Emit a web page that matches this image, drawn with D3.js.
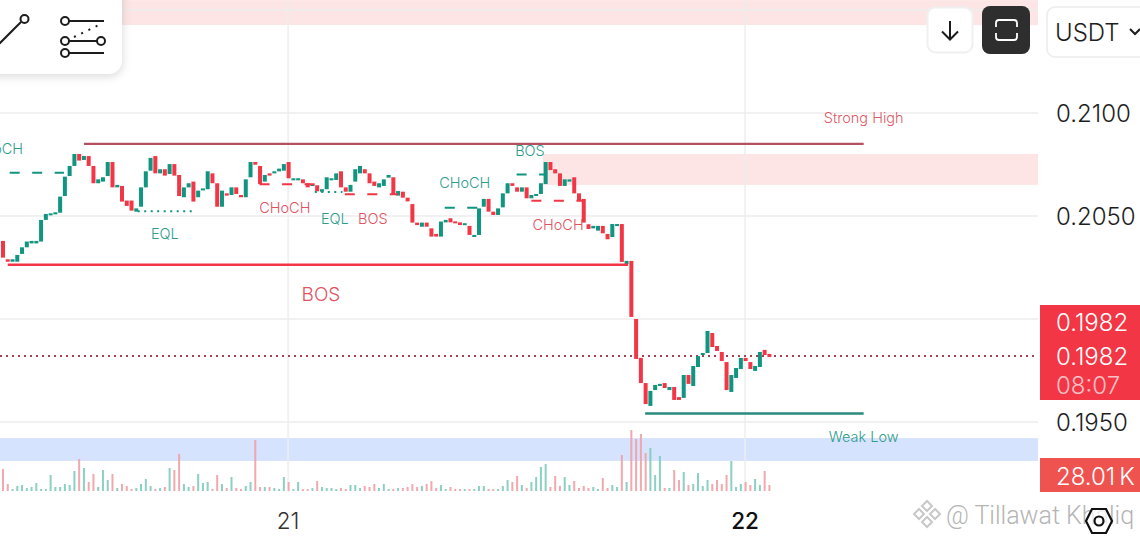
<!DOCTYPE html>
<html lang="en">
<head>
<meta charset="UTF-8">
<title>Price chart</title>
<style>
    html, body { margin: 0; padding: 0; background: #fff; overflow: hidden; }
    svg { display: block; font-family: Inter, "Noto Sans", sans-serif; }
    .anno { font-size: 14.5px; font-weight: 300; text-anchor: middle; dominant-baseline: central; }
    .side { font-size: 24px; font-weight: 300; dominant-baseline: central; }
</style>
</head>
<body>
<svg id="chart" width="1140" height="540"></svg>

<script src="https://d3js.org/d3.v7.min.js"></script>
<script>
    // 15 minute candles
    var opens = [
        .20379,.20290,.20278,.20278,.20316,.20348,.20367,.20367,.20376,.20481,.20505,.20508,.20516,.20597,.20694,.20743,.20801,.20772,.20791,.20743,
        .20659,.20667,.20694,.20762,.20639,.20646,.20575,.20575,.20521,.20545,.20639,.20720,.20791,.20707,.20727,.20704,.20752,.20699,.20591,.20639,
        .20667,.20591,.20626,.20630,.20707,.20659,.20545,.20610,.20602,.20639,.20602,.20591,.20688,.20762,.20743,.20667,.20707,.20707,.20717,.20720,
        .20762,.20676,.20676,.20678,.20659,.20649,.20649,.20618,.20630,.20675,.20675,.20717,.20639,.20618,.20667,.20707,.20727,.20707,.20667,.20639,
        .20646,.20686,.20688,.20599,.20618,.20589,.20558,.20468,.20448,.20468,.20440,.20413,.20400,.20469,.20489,.20474,.20469,.20456,.20452,.20400,
        .20408,.20545,.20583,.20521,.20505,.20542,.20610,.20659,.20639,.20618,.20639,.20586,.20599,.20607,.20655,.20762,.20727,.20707,.20646,.20667,
        .20688,.20610,.20583,.20460,.20440,.20429,.20452,.20413,.20398,.20451,.20461,.20267,.20282,.20000,.19811,.19689,.19578,.19655,.19675,.19689,
        .19655,.19670,.19621,.19617,.19728,.19675,.19767,.19825,.19835,.19932,.19869,.19840,.19791,.19646,.19714,.19757,.19811,.19791,.19748,.19767,
        .19850,.19830
    ];
    var closes = [
        .20298,.20278,.20290,.20311,.20348,.20376,.20379,.20379,.20481,.20510,.20513,.20518,.20594,.20691,.20743,.20801,.20769,.20791,.20743,.20659,
        .20678,.20688,.20762,.20639,.20651,.20570,.20549,.20526,.20537,.20639,.20717,.20782,.20707,.20727,.20696,.20752,.20696,.20597,.20639,.20659,
        .20570,.20623,.20634,.20717,.20659,.20545,.20623,.20599,.20639,.20607,.20591,.20678,.20762,.20749,.20655,.20699,.20696,.20717,.20730,.20752,
        .20683,.20683,.20683,.20659,.20639,.20655,.20620,.20630,.20688,.20683,.20707,.20639,.20618,.20651,.20727,.20743,.20707,.20659,.20646,.20659,
        .20678,.20699,.20602,.20621,.20589,.20571,.20468,.20456,.20468,.20448,.20400,.20400,.20473,.20481,.20469,.20468,.20456,.20465,.20408,.20408,
        .20537,.20583,.20521,.20505,.20537,.20610,.20659,.20646,.20618,.20639,.20586,.20602,.20607,.20659,.20762,.20723,.20707,.20646,.20678,.20678,
        .20610,.20575,.20468,.20437,.20452,.20452,.20416,.20387,.20461,.20461,.20277,.20282,.20010,.19806,.19689,.19587,.19651,.19680,.19685,.19665,
        .19670,.19607,.19607,.19728,.19685,.19772,.19820,.19835,.19942,.19864,.19845,.19796,.19655,.19728,.19762,.19811,.19796,.19757,.19772,.19840,
        .19825,.19816
    ];
    // volume, in thousands
    var volumes = [
        44,14,4,10,12,6,8,16,4,4,32,8,8,14,12,40,64,46,18,34,8,42,22,34,6,14,10,4,6,14,24,10,4,6,8,46,42,74,14,8,10,34,
        16,18,4,32,14,6,28,6,4,10,18,102,8,8,8,6,4,28,18,4,18,4,4,6,20,8,6,6,4,6,4,12,12,6,10,8,14,6,14,4,4,6,
        6,8,14,8,10,14,20,6,12,4,8,4,4,4,4,4,10,10,4,4,4,10,22,18,30,12,6,18,28,48,54,8,30,10,28,12,20,6,10,6,8,4,26,6,12,8,
        72,18,122,104,114,76,86,32,70,6,6,42,22,38,12,14,36,10,22,14,22,14,32,60,8,14,18,12,24,12,40,12
    ];

    var priceTicks = [0.21, 0.205, 0.195];
    var gridPrices = [0.215, 0.21, 0.205, 0.2, 0.195];
    var dayIndex = [60, 156];
    var dayLabels = ["21", "22"];
    var lastPrice = 0.1982;
    var lastPriceLabel = "0.1982";
    var countdownLabel = "08:07";
    var volumeLabel = "28.01";

    // [start candle, end candle, top price, bottom price]
    var zones = [
        [20, 210, 0.21548, 0.21427],
        [113.4, 210, 0.20801, 0.20651]
    ];
    var volumeBand = [0.19422, 0.19311];

    // [start candle, end candle, price, kind]
    var levels = [
        [17, 180.8, 0.2085, "high"],
        [1, 131.3, 0.20263, "bos"],
        [134.9, 180.8, 0.19541, "low"],
        [1.4, 12.8, 0.2071, "greenDash"],
        [28.3, 39.8, 0.20523, "greenDot"],
        [53.9, 65.5, 0.20654, "redDash"],
        [65.5, 71.3, 0.20617, "greenDot"],
        [71.8, 82.9, 0.20605, "redDash"],
        [92.8, 101.6, 0.2054, "greenDash"],
        [107.9, 114.2, 0.20702, "greenDash"],
        [111, 121.8, 0.20574, "redDash"]
    ];

    // [text, candle, price, kind]
    var notes = [
        ["CHoCH", -1.16, 0.2083, "green"],
        ["EQL", 34, 0.20413, "green"],
        ["CHoCH", 59.2, 0.20539, "red"],
        ["EQL", 69.7, 0.2049, "green"],
        ["BOS", 77.7, 0.2049, "red"],
        ["CHoCH", 97, 0.20665, "green"],
        ["BOS", 110.7, 0.2082, "green"],
        ["CHoCH", 116.6, 0.20461, "red"],
        ["Strong High", 180.8, 0.20976, "high"],
        ["Weak Low", 180.8, 0.19432, "green"]
    ];

    var up = "#0f9580", down = "#f23645";
    var chartRight = 1038;

    var x = d3.scaleLinear().domain([0, 161]).range([3, 769.4]);
    var y = d3.scaleLinear().domain([0.21, 0.195]).range([113, 422]);
    var yVol = d3.scaleLinear().domain([0, 122]).range([491, 430]);

    var svg = d3.select("#chart");

    // zones
    svg.selectAll(".zone").data(zones).enter().append("rect")
        .attr("x", function (d) { return x(d[0]); })
        .attr("y", function (d) { return y(d[2]); })
        .attr("width", function (d) { return chartRight - x(d[0]); })
        .attr("height", function (d) { return y(d[3]) - y(d[2]); })
        .attr("fill", "#fde5e5");

    svg.append("rect")
        .attr("x", 0).attr("width", chartRight)
        .attr("y", y(volumeBand[0]))
        .attr("height", y(volumeBand[1]) - y(volumeBand[0]))
        .attr("fill", "#d6e3fe");

    // grid
    svg.selectAll(".gridY").data(gridPrices).enter().append("line")
        .attr("x1", 0).attr("x2", chartRight)
        .attr("y1", function (d) { return y(d); })
        .attr("y2", function (d) { return y(d); })
        .attr("stroke", "#eeeeee").attr("stroke-opacity", 0.8).attr("stroke-width", 1.8);

    svg.selectAll(".gridX").data(dayIndex).enter().append("line")
        .attr("x1", function (d) { return x(d) - 0.5; })
        .attr("x2", function (d) { return x(d) - 0.5; })
        .attr("y1", 0).attr("y2", 492)
        .attr("stroke", "#eeeeee").attr("stroke-opacity", 0.8).attr("stroke-width", 1.8);

    function isUp(i) { return closes[i] >= opens[i]; }

    // volume
    svg.selectAll(".vol").data(volumes).enter().append("rect")
        .attr("x", function (d, i) { return x(i) - 1; })
        .attr("width", 2)
        .attr("y", function (d) { return yVol(d); })
        .attr("height", function (d) { return yVol(0) - yVol(d); })
        .attr("fill", function (d, i) { return isUp(i) ? "#7fcabd" : "#f0a0a4"; })
        .attr("fill-opacity", 0.9);

    // price line
    svg.append("line")
        .attr("x1", 0).attr("x2", 1034)
        .attr("y1", y(lastPrice)).attr("y2", y(lastPrice))
        .attr("stroke", "#a8404f").attr("stroke-width", 2)
        .attr("stroke-dasharray", "2 4");

    // candles
    svg.selectAll(".candle").data(opens).enter().append("rect")
        .attr("x", function (d, i) { return x(i) - 2; })
        .attr("width", 4)
        .attr("y", function (d, i) { return y(Math.max(opens[i], closes[i])); })
        .attr("height", function (d, i) { return Math.max(2, Math.abs(y(opens[i]) - y(closes[i]))); })
        .attr("fill", function (d, i) { return isUp(i) ? up : down; });

    // structure levels
    var levelStyle = {
        high: {stroke: "#b4505f", dash: null, width: 2.4},
        bos: {stroke: "#f23645", dash: null, width: 2.4},
        low: {stroke: "#2a8a7d", dash: null, width: 2.4},
        greenDash: {stroke: up, dash: "10 12.5", width: 2},
        redDash: {stroke: down, dash: "10 12.5", width: 2},
        greenDot: {stroke: up, dash: "2 4.5", width: 2}
    };
    svg.selectAll(".level").data(levels).enter().append("line")
        .attr("x1", function (d) { return x(d[0]); })
        .attr("x2", function (d) { return x(d[1]); })
        .attr("y1", function (d) { return y(d[2]); })
        .attr("y2", function (d) { return y(d[2]); })
        .attr("stroke", function (d) { return levelStyle[d[3]].stroke; })
        .attr("stroke-width", function (d) { return levelStyle[d[3]].width; })
        .attr("stroke-dasharray", function (d) { return levelStyle[d[3]].dash; });

    // labels
    var noteColor = {green: "#2f9c8c", red: "#e0525f", high: "#dc5a68"};
    svg.selectAll(".anno").data(notes).enter().append("text")
        .attr("class", "anno")
        .attr("x", function (d) { return x(d[1]); })
        .attr("y", function (d) { return y(d[2]); })
        .attr("fill", function (d) { return noteColor[d[3]]; })
        .text(function (d) { return d[0]; });

    svg.append("text").attr("class", "anno")
        .attr("x", x(66.8)).attr("y", y(0.2) - 25)
        .attr("fill", "#e0525f").style("font-size", "19px")
        .text("BOS");

    // right price axis
    var yAxis = svg.append("g")
        .attr("transform", "translate(1056,1)")
        .call(d3.axisRight(y).tickValues(priceTicks).tickSize(0).tickPadding(0)
            .tickFormat(function (d) { return d.toFixed(4); }));
    yAxis.select(".domain").remove();
    yAxis.selectAll("text").attr("fill", "#1e1e1e")
        .style("font-family", "Inter, sans-serif").style("font-size", "24px").style("font-weight", 300);

    // bottom time axis
    var xAxis = svg.append("g")
        .attr("transform", "translate(-1,507)")
        .call(d3.axisBottom(x).tickValues(dayIndex).tickSize(0).tickPadding(6)
            .tickFormat(function (d, i) { return dayLabels[i]; }));
    xAxis.select(".domain").remove();
    xAxis.selectAll("text").attr("fill", "#333")
        .style("font-family", "Inter, sans-serif").style("font-size", "22.5px").style("font-weight", 300);
    xAxis.selectAll("text").filter(function (d) { return d === 156; })
        .attr("fill", "#111").style("font-weight", 500);

    // price and volume tags
    svg.append("rect").attr("x", 1040).attr("y", 305).attr("width", 100).attr("height", 95).attr("fill", "#f23645");
    svg.append("rect").attr("x", 1040).attr("y", 458).attr("width", 100).attr("height", 34).attr("fill", "#ef5350");
    svg.append("text").attr("class", "side").attr("x", 1056).attr("y", 322).attr("fill", "#fff").text(lastPriceLabel);
    svg.append("text").attr("class", "side").attr("x", 1056).attr("y", y(lastPrice)).attr("fill", "#fff").text(lastPriceLabel);
    svg.append("text").attr("class", "side").attr("x", 1056).attr("y", 385).attr("fill", "#fff").attr("fill-opacity", 0.7).text(countdownLabel);
    var volText = svg.append("text").attr("class", "side").attr("x", 1056).attr("y", 476).attr("fill", "#fff").text(volumeLabel);
    volText.append("tspan").attr("dx", 4).text("K");

    // tool panel, top left
    var defs = svg.append("defs");
    var shadow = defs.append("filter").attr("id", "soft").attr("x", "-20%").attr("y", "-20%").attr("width", "140%").attr("height", "150%");
    shadow.append("feDropShadow").attr("dx", 1).attr("dy", 3).attr("stdDeviation", 4).attr("flood-color", "#000").attr("flood-opacity", 0.13);
    svg.append("rect").attr("x", -20).attr("y", -20).attr("width", 142).attr("height", 94).attr("rx", 14)
        .attr("fill", "#fff").attr("filter", "url(#soft)");

    var tools = svg.append("g").attr("fill", "none").attr("stroke", "#1c1c1c").attr("stroke-width", 2);
    tools.append("path").attr("d", "M-2,45L21,22");
    tools.append("circle").attr("cx", 24.5).attr("cy", 19).attr("r", 4);
    tools.append("path").attr("d", "M69,21H104M69,41H97M69,53H104");
    tools.append("circle").attr("cx", 65).attr("cy", 21).attr("r", 4);
    tools.append("circle").attr("cx", 65).attr("cy", 41).attr("r", 4);
    tools.append("circle").attr("cx", 65).attr("cy", 53).attr("r", 4);
    tools.append("circle").attr("cx", 101).attr("cy", 41).attr("r", 4);
    tools.append("path").attr("d", "M74,37L101,24").attr("stroke-dasharray", "2 6");

    // buttons, top right
    svg.append("rect").attr("x", 927.5).attr("y", 7.5).attr("width", 45).attr("height", 45).attr("rx", 8)
        .attr("fill", "#fff").attr("stroke", "#f0f0f0").attr("stroke-width", 2);
    svg.append("path").attr("d", "M950,21V39M942,31.5L950,39.5L958,31.5")
        .attr("fill", "none").attr("stroke", "#1c1c1c").attr("stroke-width", 2);
    svg.append("rect").attr("x", 982).attr("y", 6).attr("width", 48).attr("height", 48).attr("rx", 8).attr("fill", "#2e2e2e");
    svg.append("path")
        .attr("d", "M996,27V23Q996,20 999,20H1014Q1017,20 1017,23V27M996,33V37Q996,40 999,40H1014Q1017,40 1017,37V33")
        .attr("fill", "none").attr("stroke", "#fff").attr("stroke-width", 1.8);
    svg.append("rect").attr("x", 1047).attr("y", 7).attr("width", 120).attr("height", 50).attr("rx", 8)
        .attr("fill", "#fff").attr("stroke", "#f0f0f0").attr("stroke-width", 2);
    svg.append("text").attr("class", "side").attr("x", 1055).attr("y", 32).attr("fill", "#1e1e1e").text("USDT");
    svg.append("path").attr("d", "M1130,29L1135,34L1140,29")
        .attr("fill", "none").attr("stroke", "#1c1c1c").attr("stroke-width", 2);

    // watermark
    svg.append("text").attr("x", 946).attr("y", 523.5)
        .attr("fill", "#b4b4b4").style("font-size", "25px").style("font-family", "Roboto, sans-serif").style("font-weight", 300)
        .text("@ Tillawat Khaliq");
    var mark = svg.append("g").attr("fill", "none").attr("stroke", "#c8c8c8").attr("stroke-width", 2);
    mark.append("path").attr("d", "M927,501L932,506L927,511L922,506Z");
    mark.append("path").attr("d", "M927,517L932,522L927,527L922,522Z");
    mark.append("path").attr("d", "M919,509L924,514L919,519L914,514Z");
    mark.append("path").attr("d", "M935,509L940,514L935,519L930,514Z");
    var hex = svg.append("g").attr("fill", "#fff").attr("fill-opacity", 0.75).attr("stroke", "#111").attr("stroke-width", 2.2);
    hex.append("path").attr("d", "M1092,509H1106L1112,521L1106,533H1092L1086,521Z");
    hex.append("circle").attr("cx", 1099).attr("cy", 521).attr("r", 4.5);
</script>
</body>
</html>
